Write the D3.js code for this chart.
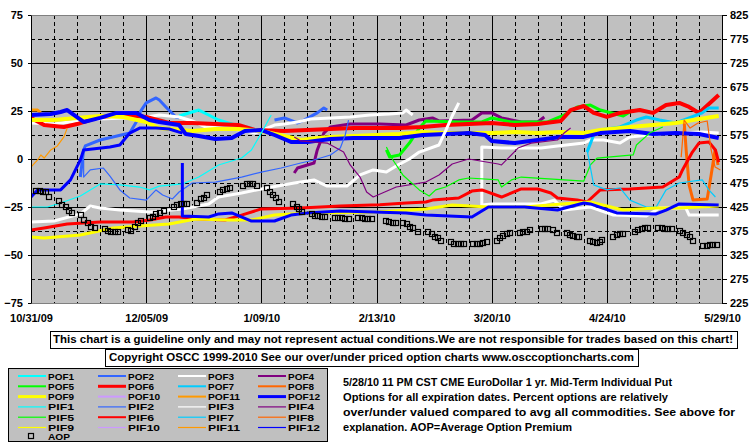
<!DOCTYPE html>
<html>
<head>
<meta charset="utf-8">
<script src="https://cdn.jsdelivr.net/npm/d3@7"></script>
<style>
  body { margin: 0; background: #fff; }
  svg text { font-family: "Liberation Sans", Arial, sans-serif; font-weight: bold; fill: #000; }
</style>
</head>
<body>
<div id="chart"></div>
<script>
// x = days since 10/31/09, y = percent (left axis); AOP uses right axis
var xLabels = ["10/31/09","12/05/09","1/09/10","2/13/10","3/20/10","4/24/10","5/29/10"];
var xDays = [0, 35, 70, 105, 140, 175, 210];
var leftTicks = [-75, -50, -25, 0, 25, 50, 75];
var rightTicks = [225, 275, 325, 375, 425, 475, 525, 575, 625, 675, 725, 775, 825];

var pof1 = [[45,22.4],[49,24.5],[51,25.5],[54,22.9],[57,20.3],[62,17.7],[67,16.1]];
var pof2 = [[15,-9.4],[16,4.7],[16.5,6.8],[21,9.9],[30,13.5],[32,19.3],[33,24],[35,29.2],[38,31.8],[39,30.7],[41,27.1],[44,21.9],[45,21.4],
  null,[74,20.3],[77,21.4],[81,18.75],[83,20.3],[87,24],[89,26.6],[90,25.5]];
var pof3 = [[0,18.75],[7,18.2],[14,19.8],[21,20.8],[28,21.4],[35,21.9],[39,22.9],[45,21.9],[49,19.8],[53,16.7],[57,16.1],[64,15.1],[68,13.5],
  [74,17.7],[77,18.2],[81,19.3],[85,20.8],[91,21.4],[97,21.9],[103,22.9],[109,23.4],[113,24],[114,25.5],[116,22.9],
  null,[137,-25],[137,6.25],[143,5.7],[155,5.7],[160,6.8],[168,8.3],[170,9.9],[174,9.9],[179,8.3],[182,11.5],[191,13],[197,13.5],[204,14.1],[209,13.5]];
var pof4 = [[80,-7.3],[81,-4.7],[86,-2.1],[87,4.7],[89,13.5],[91,16.7],[97,18.2],[106,18.2],[114,17.7],[118,20.3],[122,21.4],[124,19.8],
  [134,20.3],[137,24],[140,24],[143,21.4],[149,19.3],[154,19.3],[156,21.9]];
var pof5 = [[108,4.7],[109,1],[112,2.1],[115,8.3],[118,16.1],[120,19.8],[130,19.3],[137,19.3],[140,21.4],[146,19.3],[157,19.3],
  [162,22.9],[166,27.1],[170,28.1],[173,25.5],[180,22.4],[183,25.5]];
var pof6 = [[0,21.4],[4,17.7],[7,17.2],[10,16.7],[14,18.2],[21,21.9],[28,22.9],[35,21.9],[42,18.75],[49,18.75],[56,18.2],[63,17.7],[68,15.1],
  [77,14.6],[84,15.1],[91,15.6],[98,16.1],[105,16.1],[112,16.1],[119,16.7],[126,17.7],[133,18.2],[140,18.75],[147,17.7],[154,18.2],
  [161,19.8],[164,25.5],[168,27.6],[171,24],[175,21.9],[179,24],[185,25.5],[189,24],[193,28.1],[197,29.2],[200,27.1],[203,24],[206,28.6],[209,33.3]];
var pof7 = [[169,3.6],[171,12.5],[173,15.1],[179,16.7],[184,20.3],[187,21.9],[191,20.3],[196,18.75],[200,21.4],[204,24],[206,26.6],[209,26.6]];
var pof8 = [[198.5,19.3],[199.1,4.7],[200,-13.5],[201.2,-21.4],[205.5,-20.8],[206.7,-8.3],[207.9,4.7],[208.8,-3.1]];
var pof9 = [[0,20.3],[7,20.3],[14,21.4],[21,22.4],[28,21.9],[35,19.3],[39,16.1],[42,15.6],[49,14.6],[56,15.6],[63,15.6],[70,14.6],[77,12],
  [82,9.9],[87,10.9],[91,11.5],[98,12],[105,12.5],[112,13],[119,14.1],[126,13.5],[133,13.5],[140,13.5],[147,14.1],[154,13.5],[161,14.1],
  [168,13.5],[173,15.1],[182,16.7],[189,17.7],[196,18.75],[203,20.8],[209,22.4]];
var pof10 = [];
var pof11 = [[0,25.5],[2,25.5],[3,24]];
var pof12 = [[0,22.9],[6,23.4],[9,24.5],[11,25.5],[16,19.3],[21,21.4],[26,24],[32,24],[36,20.3],[39,19.3],[45,17.7],[47,13],[51,12],[56,10.4],
  [61,10.9],[65,14.6],[70,15.1],[74,12.5],[79,8.9],[84,8.9],[91,10.4],[98,10.9],[105,10.9],[112,10.9],[119,12.5],[126,13],[133,13.5],
  [138,12.5],[140,9.4],[147,8.3],[154,9.9],[161,11.5],[168,11.5],[173,13.5],[182,14.6],[189,13],[196,13.5],[203,13],[209,10.9]];

var pif1 = [[0,-25],[5,-25],[9,-22.9],[15,-19.3],[21,-13],[27,-13.5],[33,-14.6],[36,-16.1],[39,-14.1],[46,-13],[51,-9.4],[57,-3.1],
  [64,0.5],[67,4.7],[70,13.5],[73,22.9]];
var pif2 = [[16,-0.5],[16,-9.4],[18,-5.7],[22,-4.7],[24,-8.9],[27,-16.1],[30,-20.3],[35,-21.4],[38,-16.1],[40,-18.75],[43,-20.8],[45,-17.2],
  [49,-12.5],[56,-12],[64,-9.4],[70,-6.8],[76,-4.7],[82,-2.1],[86,-0.5],[91,2.1],[94,5.7],[95.5,12.5],[96.5,20.3]];
var pif3 = [[0,-32.8],[7,-32.3],[15,-28.6],[18,-24.5],[21,-25.5],[27,-26.6],[36,-27.6],[46,-26],[54,-23.4],[57,-19.8],[64,-17.7],[70,-15.6],
  [80,-12.5],[86,-10.9],[90,-14.1],[96,-14.1],[100,-8.3],[104,-5.7],[108,-6.8],[111,-3.6],[115,0],[118,3.6],[124,7.3],[126,14.6],[128,22.4],[130,29.2],
  null,[137,-24],[140,-23.4],[155,-23.4],[159,-21.4],[162,-26.6],[170,-25],[177,-29.2],[187,-29.7],[191,-25.5],[199,-25.5],[200,-29.2],[209,-29.2]];
var pif4 = [[80,11.5],[82,9.4],[90,8.3],[95,3.6],[97,-3.1],[100,-9.4],[102,-17.2],[104,-19.8],[111,-14.6],[120,-12],[124,-8.3],[128,-2.6],
  [133,0],[142,-2.6],[143,-3.1],[148,5.7],[152,8.3],[160,9.9],[162,13.5],[164,16.1]];
var pif5 = [[108,6.25],[110,-0.5],[113,-8.3],[118,-16.1],[121,-19.3],[123,-16.1],[126,-14.6],[130,-10.9],[133,-9.9],[142,-10.9],[143,-14.6],
  [146,-10.9],[149,-9.4],[168,-11.5],[170,-3.1],[172,0.5],[183,2.1],[184,7.3],[188,13.5],[192,16.7]];
var pif6 = [[0,-37],[4,-35.9],[11,-33.9],[21,-32.8],[31,-32.8],[36,-31.8],[41,-30.2],[45,-30.2],[51,-31.25],[59,-31.8],[64,-29.2],[70,-26],
  [82,-25.5],[94,-24.5],[106,-23.8],[114,-22.9],[120,-22.4],[122,-21.4],[130,-20.3],[134,-16.7],[137,-16.1],[143,-19.8],[149,-15.6],[154,-15.6],
  [158,-17.7],[160,-20.3],[166,-21.4],[169,-22.4],[173,-16.1],[182,-15.6],[192,-14.6],[197,-9.4],[198,-5.7],[201,3.6],[203,8.3],[206,8.9],[208,4.7],[209,-1.6]];
var pif7 = [[169,4.7],[171,-13.5],[175,-16.1],[179,-15.1],[182,-21.4],[187,-25],[190,-25],[193,-16.1],[197,-12.5],[204,-10.9],[206,-16.1],[208,-19.8]];
var pif8 = [[197.6,1],[198.5,20.3],[200.3,16.1],[202.7,18.75],[205.5,19.8],[206.7,4.7],[207.9,-4.2],[209.5,-5.7]];
var pif9 = [[0,-40.6],[4,-41.1],[15,-39.6],[25,-35.9],[33,-34.9],[42,-33.9],[50,-31.25],[60,-31.8],[67,-31.8],[74,-29.2],[84,-28.1],
  [105,-27.6],[120,-26],[128,-24],[139,-25],[150,-25],[165,-22.9],[170,-22.4],[180,-26.6],[190,-25.5],[197,-25.5],[209,-24.5]];
var pif10 = [];
var pif11 = [[0,-4.2],[2,-0.5],[3,2.1],[4,0.5],[6,4.7],[8,6.8],[10,11.5],[11,16.1]];
var pif12 = [[0,-19.8],[2,-16.1],[9,-16.1],[12,-10.9],[15,-0.5],[16,4.7],[24,6.25],[27,7.3],[30,13.5],[33,16.1],[38,16.1],[42,15.6],[46,13.5],
  null,[46,-2.1],[46,-29.7],[54,-30.2],[57,-28.6],[61,-28.1],[67,-32.3],[74,-32.3],[79,-29.2],[84,-28.1],[94,-27.1],[104,-27.6],[114,-28.1],
  [120,-29.2],[134,-30.2],[139,-25],[150,-25],[160,-26.6],[168,-22.9],[170,-23.4],[178,-28.1],[190,-28.6],[193,-26.6],[197,-23.4],[209,-24]];

// Average Option Premium (right axis)
var aop = [[1.5,458],[2.7,458],[3.6,456],[4.6,456],[5.5,446],[8.5,438],[9.4,429],[10.6,425],[11.6,417],[12.5,413],[15.2,408],[16.1,398],
  [17.3,392],[18.2,383],[19.5,381],[22.5,379],[23.4,375],[24.3,373],[25.5,373],[26.4,373],[29.5,377],[30.4,375],[31.6,383],[32.5,392],
  [33.4,396],[36.2,402],[37.1,404],[38,410],[39.2,413],[40.4,417],[43.5,425],[44.4,429],[45.6,431],[46.5,431],[47.4,431],[50.5,433],
  [51.7,442],[52.6,444],[53.5,450],[57.5,456],[58.4,460],[59.6,463],[60.5,465],[64.4,469],[65.7,473],[66.6,473],[67.5,473],[68.7,469],
  [71.7,465],[72.7,456],[73.6,450],[74.5,444],[75.4,435],[79.6,431],[80.9,425],[81.5,421],[82.4,415],[85.4,410],[86.3,406],[87.2,406],
  [88.5,404],[89.4,404],[92.4,402],[93.3,402],[94.5,402],[95.5,400],[96.7,400],[99.4,402],[100.6,402],[101.5,400],[102.4,400],[103.7,400],
  [107.9,396],[108.8,394],[110,392],[111,392],[113.1,392],[114.3,390],[115.2,383],[116.1,381],[117.6,373],[120.7,373],[121.9,369],[122.8,362],
  [123.7,360],[124.6,354],[127.7,352],[128.6,348],[129.8,348],[130.7,348],[131.6,348],[134.4,348],[135.6,348],[136.5,348],[137.4,350],
  [138.6,352],[141.7,354],[142.6,360],[143.5,365],[144.7,369],[145.6,371],[148.7,371],[149.6,373],[150.8,373],[151.7,377],[155.3,379],
  [156.3,379],[157.2,379],[158.7,377],[159.9,371],[162.9,371],[163.9,367],[164.8,365],[166,362],[166.6,362],[169.9,354],[170.8,352],
  [172.1,350],[173,352],[173.6,356],[176.9,362],[178.1,367],[179,369],[180,369],[183.6,373],[184.5,377],[185.7,379],[186.7,381],[187.6,381],
  [190.6,381],[191.8,381],[192.7,379],[193.6,379],[194.9,379],[197.3,375],[198.2,371],[199.4,367],[200.3,362],[201.2,354],[204.3,344],
  [205.5,344],[206.4,346],[207.3,346],[208.5,346]];

var colors = ["#00FFFF","#3366FF","#FFFFFF","#800080","#00FF00","#FF0000","#00CCFF","#FF6600","#FFFF00","#CC99FF","#FF9900","#0000FF"];
var pofData = [pof1,pof2,pof3,pof4,pof5,pof6,pof7,pof8,pof9,pof10,pof11,pof12];
var pifData = [pif1,pif2,pif3,pif4,pif5,pif6,pif7,pif8,pif9,pif10,pif11,pif12];
var pofWidth = [3,3,3,3,3,4,3,3,4,3,3,4];
var pifWidth = [1.2,1.2,3,1.2,1.2,3,1.2,1.2,3,1.2,1.2,3];

var series = [];
pofData.forEach(function(d,i){ series.push({name:"POF"+(i+1), color:colors[i], w:pofWidth[i], lw:(i==5||i==8||i==11)?3:2, data:d}); });
pifData.forEach(function(d,i){ series.push({name:"PIF"+(i+1), color:colors[i], w:pifWidth[i], lw:(i==5)?2:1.2, data:d}); });

var margin = {top: 15, right: 33, bottom: 143, left: 31},
    W = 755, H = 446,
    width = W - margin.left - margin.right,
    height = H - margin.top - margin.bottom;

var svg = d3.select("#chart").append("svg").attr("width", W).attr("height", H);
svg.append("rect").attr("width", W).attr("height", H).attr("fill", "#fff");

var g = svg.append("g").attr("transform", "translate(" + margin.left + "," + margin.top + ")");

var x = d3.scaleLinear().domain([0, 210]).range([0, width]);
var yL = d3.scaleLinear().domain([-75, 75]).range([height, 0]);
var yR = d3.scaleLinear().domain([225, 825]).range([height, 0]);

g.append("rect").attr("width", width).attr("height", height).attr("fill", "#C0C0C0");

// grid
var crisp = function(v){ return Math.round(v) + 0.5; };
g.append("g").selectAll("line").data(d3.range(7, 210, 7)).join("line")
  .attr("x1", function(d){ return crisp(x(d)); }).attr("x2", function(d){ return crisp(x(d)); })
  .attr("y1", 0).attr("y2", height)
  .attr("stroke", "#000").attr("stroke-width", 1)
  .attr("stroke-dasharray", function(d){ return d % 35 ? "4,3" : null; });
g.append("g").selectAll("line").data(d3.range(-62.5, 75, 12.5)).join("line")
  .attr("y1", function(d){ return crisp(yL(d)); }).attr("y2", function(d){ return crisp(yL(d)); })
  .attr("x1", 0).attr("x2", width)
  .attr("stroke", "#000").attr("stroke-width", 1)
  .attr("stroke-dasharray", function(d){ return d % 25 ? "4,3" : null; });

g.append("rect").attr("x", 0.5).attr("y", 0.5).attr("width", width).attr("height", height)
  .attr("fill", "none").attr("stroke", "#808080");

// lines
g.append("clipPath").attr("id", "clip").append("rect").attr("width", width).attr("height", height);
var plot = g.append("g").attr("clip-path", "url(#clip)");
var line = d3.line().defined(function(d){ return d !== null; })
  .x(function(d){ return x(d[0]); }).y(function(d){ return yL(d[1]); });

plot.selectAll("path.series").data(series).join("path")
  .attr("class", "series")
  .attr("d", function(s){ return line(s.data); })
  .attr("fill", "none")
  .attr("stroke", function(s){ return s.color; })
  .attr("stroke-width", function(s){ return s.w; })
  .attr("stroke-linejoin", "round");

plot.selectAll("rect.aop").data(aop).join("rect")
  .attr("class", "aop")
  .attr("x", function(d){ return Math.round(x(d[0])) - 2.5; })
  .attr("y", function(d){ return Math.round(yR(d[1])) - 2.5; })
  .attr("width", 5).attr("height", 5)
  .attr("fill", "none").attr("stroke", "#000").attr("stroke-width", 1.2);

// axes
function styleAxis(sel){
  sel.attr("font-family", null).attr("font-size", null);
  sel.selectAll("text").style("font-size", "11px");
  sel.selectAll("line, path").attr("stroke", "#000");
}
g.append("g")
  .call(d3.axisLeft(yL).tickValues(leftTicks).tickSize(3).tickPadding(5).tickSizeOuter(0))
  .call(styleAxis);
g.append("g").attr("transform", "translate(" + width + ",0)")
  .call(d3.axisRight(yR).tickValues(rightTicks).tickSize(5).tickPadding(3).tickSizeOuter(0))
  .call(styleAxis);
g.append("g").attr("transform", "translate(0," + height + ")")
  .call(d3.axisBottom(x).tickValues(xDays).tickFormat(function(d, i){ return xLabels[i]; }).tickSize(0).tickPadding(11))
  .call(styleAxis)
  .call(function(a){ a.select(".domain").remove(); });

// notice boxes
function box(x0, y0, w, h, txt, tx, ty, tl){
  svg.append("rect").attr("x", x0 + 0.5).attr("y", y0 + 0.5).attr("width", w).attr("height", h)
    .attr("fill", "#fff").attr("stroke", "#000");
  svg.append("text").attr("x", tx).attr("y", ty).style("font-size", "11px")
    .attr("textLength", tl).attr("lengthAdjust", "spacingAndGlyphs").text(txt);
}
box(50, 331, 687, 17, "This chart is a guideline only and may not represent actual conditions.We are not responsible for trades based on this chart!", 53, 343, 680);
box(105, 349, 533, 17, "Copyright OSCC 1999-2010 See our over/under priced option charts www.osccoptioncharts.com", 109, 361, 525);

// legend
svg.append("rect").attr("x", 8.5).attr("y", 368.5).attr("width", 319).attr("height", 73)
  .attr("fill", "#C0C0C0").attr("stroke", "#000");
var colX = [18, 98, 178, 258];
var rowH = 10.3;
var leg = svg.append("g").selectAll("g").data(series).join("g")
  .attr("transform", function(s, i){ return "translate(" + colX[i % 4] + "," + (375.5 + Math.floor(i / 4) * rowH) + ")"; });
leg.append("line").attr("x1", 0).attr("x2", 28).attr("y1", 0.5).attr("y2", 0.5)
  .attr("stroke", function(s){ return s.color; }).attr("stroke-width", function(s){ return s.lw; });
leg.append("text").attr("x", 30).attr("y", 4).style("font-size", "8.8px")
  .attr("textLength", function(s){ return s.name.length > 4 ? 32 : 26; }).attr("lengthAdjust", "spacingAndGlyphs")
  .text(function(s){ return s.name; });
svg.append("rect").attr("x", 28.5).attr("y", 433.5).attr("width", 5).attr("height", 5)
  .attr("fill", "none").attr("stroke", "#000").attr("stroke-width", 1.2);
svg.append("text").attr("x", 48).attr("y", 440).style("font-size", "8.8px")
  .attr("textLength", 22).attr("lengthAdjust", "spacingAndGlyphs").text("AOP");

// description
var desc = [
  ["5/28/10 11 PM CST CME EuroDollar 1 yr. Mid-Term Individual Put", 329],
  ["Options for all expiration dates. Percent options are relatively", 325],
  ["over/under valued compared to avg all commodities. See above for", 392],
  ["explanation. AOP=Average Option Premium", 229]
];
svg.append("g").selectAll("text").data(desc).join("text")
  .attr("x", 343).attr("y", function(d, i){ return 386 + i * 15; })
  .style("font-size", "11px")
  .attr("textLength", function(d){ return d[1]; }).attr("lengthAdjust", "spacingAndGlyphs")
  .text(function(d){ return d[0]; });
</script>
</body>
</html>
